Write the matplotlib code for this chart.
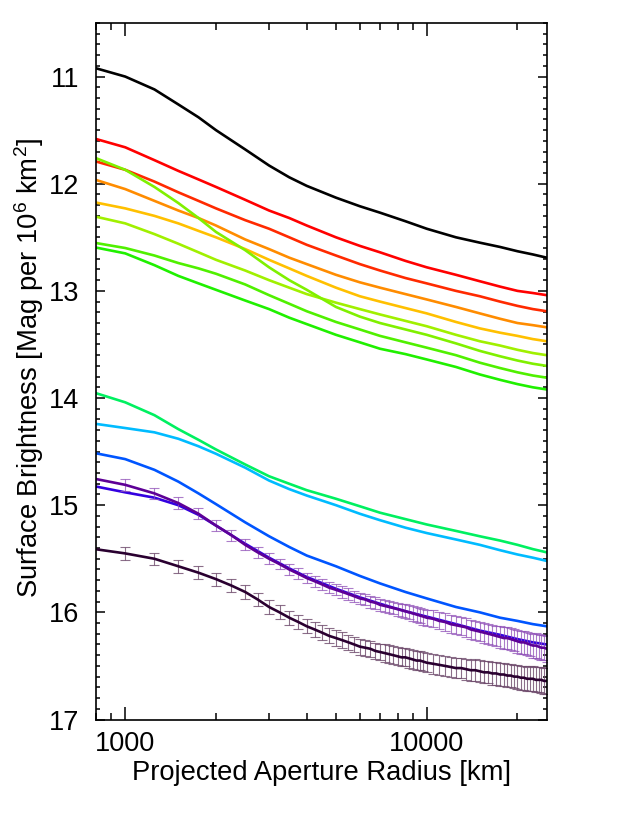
import numpy as np
import matplotlib
matplotlib.use("Agg")
import matplotlib.pyplot as plt
from matplotlib.ticker import FixedLocator, NullFormatter, MultipleLocator, LogLocator

plt.rcParams['font.family'] = ['Liberation Sans', 'DejaVu Sans']
plt.rcParams['mathtext.fontset'] = 'custom'
plt.rcParams['mathtext.rm'] = 'Liberation Sans'
plt.rcParams['mathtext.it'] = 'Liberation Sans'

# ---------------- data ----------------
radius = [750, 1000, 1250, 1500, 1750, 2000, 2500, 3000, 3500, 4000, 5000,
          6000, 7000, 8500, 10000, 12500, 15000, 17500, 20000, 22500, 25000]

black = [10.90, 11.00, 11.12, 11.26, 11.38, 11.50, 11.68, 11.83, 11.94, 12.02, 12.13,
         12.21, 12.27, 12.35, 12.42, 12.50, 12.55, 12.59, 12.63, 12.66, 12.69]
red1 = [11.56, 11.66, 11.78, 11.88, 11.96, 12.03, 12.15, 12.25, 12.32, 12.39, 12.50,
        12.58, 12.64, 12.72, 12.78, 12.85, 12.91, 12.96, 13.00, 13.02, 13.04]
red2 = [11.77, 11.87, 11.98, 12.08, 12.16, 12.23, 12.34, 12.42, 12.50, 12.57, 12.67,
        12.75, 12.81, 12.88, 12.93, 13.00, 13.05, 13.10, 13.14, 13.17, 13.19]
orange = [11.94, 12.05, 12.16, 12.25, 12.32, 12.39, 12.52, 12.61, 12.69, 12.75, 12.85,
          12.92, 12.97, 13.03, 13.08, 13.15, 13.21, 13.26, 13.30, 13.32, 13.34]
yellow = [12.16, 12.23, 12.30, 12.37, 12.44, 12.50, 12.61, 12.71, 12.79, 12.86, 12.97,
          13.05, 13.10, 13.16, 13.21, 13.29, 13.35, 13.39, 13.42, 13.45, 13.47]
cross = [11.73, 11.87, 12.03, 12.18, 12.32, 12.45, 12.62, 12.78, 12.90, 12.99, 13.15,
         13.24, 13.30, 13.36, 13.41, 13.49, 13.56, 13.61, 13.65, 13.68, 13.70]
ygreen = [12.29, 12.37, 12.47, 12.56, 12.64, 12.71, 12.81, 12.90, 12.97, 13.03, 13.11,
          13.17, 13.22, 13.28, 13.33, 13.41, 13.47, 13.51, 13.55, 13.58, 13.60]
green3 = [12.54, 12.60, 12.67, 12.74, 12.79, 12.84, 12.94, 13.04, 13.12, 13.19, 13.29,
          13.36, 13.42, 13.48, 13.53, 13.60, 13.67, 13.72, 13.76, 13.79, 13.81]
green4 = [12.58, 12.65, 12.76, 12.86, 12.93, 12.99, 13.09, 13.17, 13.25, 13.31, 13.41,
          13.48, 13.54, 13.59, 13.64, 13.71, 13.78, 13.83, 13.87, 13.90, 13.92]
spring = [13.93, 14.04, 14.16, 14.29, 14.39, 14.48, 14.62, 14.73, 14.80, 14.86, 14.94,
          15.01, 15.07, 15.13, 15.18, 15.24, 15.29, 15.33, 15.37, 15.41, 15.44]
cyan = [14.23, 14.28, 14.32, 14.38, 14.45, 14.52, 14.65, 14.77, 14.85, 14.91, 15.00,
        15.08, 15.14, 15.21, 15.26, 15.32, 15.37, 15.42, 15.46, 15.49, 15.52]
blue = [14.50, 14.57, 14.67, 14.78, 14.89, 14.99, 15.16, 15.29, 15.39, 15.47, 15.57,
        15.66, 15.73, 15.81, 15.87, 15.95, 16.00, 16.05, 16.08, 16.11, 16.13]
violet = [14.81, 14.88, 14.93, 15.00, 15.09, 15.19, 15.36, 15.49, 15.59, 15.67, 15.78,
          15.86, 15.92, 15.99, 16.04, 16.11, 16.17, 16.21, 16.25, 16.28, 16.30]

# dense radii of the two series with error bars
eb_radius = [750, 1000, 1250, 1500, 1750, 2000, 2250, 2500, 2750, 3000, 3250, 3500, 3750,
             4000, 4250, 4500, 4750, 5000, 5250, 5500, 5750, 6000, 6250, 6500, 6750,
             7000, 7250, 7500, 7750, 8000, 8250, 8500, 8750, 9000, 9250, 9500, 9750,
             10000, 10500, 11000, 11500, 12000, 12500, 13000, 13500, 14000, 14500,
             15000, 15500, 16000, 16500, 17000, 17500, 18000, 18500, 19000, 19500,
             20000, 20500, 21000, 21500, 22000, 22500, 23000, 23500, 24000, 24500, 25000]
purple = [14.74, 14.81, 14.89, 14.98, 15.08, 15.19, 15.28, 15.37, 15.44, 15.50, 15.55,
          15.60, 15.64, 15.68, 15.71, 15.74, 15.77, 15.79, 15.81, 15.83, 15.85, 15.87,
          15.88, 15.90, 15.91, 15.93, 15.94, 15.95, 15.96, 15.97, 15.98, 15.99, 16.00,
          16.01, 16.02, 16.03, 16.04, 16.05, 16.06, 16.08, 16.09, 16.11, 16.12, 16.13,
          16.14, 16.16, 16.17, 16.18, 16.19, 16.20, 16.21, 16.22, 16.23, 16.24, 16.24,
          16.25, 16.26, 16.27, 16.28, 16.28, 16.29, 16.30, 16.31, 16.31, 16.32, 16.33,
          16.33, 16.34]
purple_err = [0.055, 0.055, 0.054, 0.053, 0.052, 0.052, 0.051, 0.051, 0.050, 0.050, 0.050,
              0.050, 0.050, 0.050, 0.051, 0.051, 0.051, 0.052, 0.052, 0.053, 0.053, 0.054,
              0.054, 0.055, 0.056, 0.057, 0.058, 0.059, 0.060, 0.061, 0.062, 0.064, 0.066,
              0.068, 0.070, 0.072, 0.074, 0.076, 0.078, 0.080, 0.082, 0.083, 0.085, 0.086,
              0.088, 0.089, 0.091, 0.092, 0.093, 0.095, 0.096, 0.097, 0.099, 0.100, 0.101,
              0.103, 0.104, 0.105, 0.107, 0.108, 0.109, 0.111, 0.112, 0.113, 0.115, 0.116,
              0.118, 0.120]
dark = [15.40, 15.45, 15.50, 15.57, 15.63, 15.69, 15.75, 15.81, 15.88, 15.95, 16.00,
        16.05, 16.09, 16.13, 16.16, 16.19, 16.22, 16.24, 16.26, 16.28, 16.30, 16.32,
        16.33, 16.34, 16.36, 16.37, 16.38, 16.39, 16.40, 16.41, 16.42, 16.42, 16.43,
        16.44, 16.45, 16.45, 16.46, 16.47, 16.48, 16.49, 16.50, 16.51, 16.52, 16.52,
        16.53, 16.54, 16.54, 16.55, 16.56, 16.56, 16.57, 16.57, 16.58, 16.58, 16.59,
        16.59, 16.60, 16.60, 16.61, 16.61, 16.62, 16.62, 16.62, 16.63, 16.63, 16.63,
        16.64, 16.64]
dark_err = [0.058, 0.058, 0.058, 0.059, 0.059, 0.060, 0.060, 0.061, 0.062, 0.063, 0.064,
            0.065, 0.066, 0.067, 0.068, 0.069, 0.070, 0.071, 0.072, 0.073, 0.074, 0.075,
            0.076, 0.077, 0.078, 0.079, 0.080, 0.081, 0.082, 0.083, 0.084, 0.085, 0.086,
            0.087, 0.088, 0.089, 0.090, 0.091, 0.092, 0.093, 0.094, 0.095, 0.096, 0.097,
            0.098, 0.099, 0.100, 0.101, 0.102, 0.103, 0.104, 0.105, 0.106, 0.107, 0.108,
            0.109, 0.110, 0.111, 0.112, 0.113, 0.114, 0.115, 0.116, 0.117, 0.118, 0.119,
            0.120, 0.122]

x_ticks = [1000, 10000]
x_tick_labels = ["1000", "10000"]
y_ticks = [11, 12, 13, 14, 15, 16, 17]

# ---------------- plot ----------------
fig = plt.figure(figsize=(6.43, 8.17), dpi=100)
ax = fig.add_axes([96 / 643, 1 - 719.5 / 817, (546.7 - 96) / 643, (719.5 - 23) / 817])

lw = 1.9
series = [
    (black, "#000000"), (red1, "#FF0000"), (red2, "#FF2A00"), (orange, "#FF8C00"),
    (yellow, "#FFC000"), (ygreen, "#A0F000"), (cross, "#80F000"), (green3, "#50F000"),
    (green4, "#20F000"), (spring, "#00F060"), (cyan, "#00BBFF"), (blue, "#0055FF"),
    (violet, "#3300E0"),
]
for vals, col in series:
    ax.plot(radius, vals, color=col, lw=lw, solid_joinstyle='round')

ax.errorbar(eb_radius, purple, yerr=purple_err, fmt='none', ecolor="#9050B8",
            elinewidth=0.8, capsize=3.5, capthick=0.8, alpha=0.75)
ax.plot(eb_radius, purple, color="#5E0096", lw=lw)
ax.errorbar(eb_radius, dark, yerr=dark_err, fmt='none', ecolor="#6E4A6C",
            elinewidth=0.8, capsize=3.5, capthick=0.8, alpha=0.8)
ax.plot(eb_radius, dark, color="#2A0030", lw=lw)

ax.set_xscale('log')
ax.set_xlim(800, 25000)
ax.set_ylim(17.0, 10.5)

ax.xaxis.set_major_locator(FixedLocator(x_ticks))
ax.set_xticklabels(x_tick_labels)
ax.xaxis.set_minor_locator(LogLocator(base=10, subs=np.arange(2, 10)))
ax.xaxis.set_minor_formatter(NullFormatter())
ax.yaxis.set_major_locator(FixedLocator(y_ticks))
ax.yaxis.set_minor_locator(MultipleLocator(0.1))

ax.tick_params(which='both', direction='in', top=True, right=True, width=1.1,
               labelsize=19.5, colors='black')
ax.tick_params(axis='x', which='major', length=9.5, pad=8)
ax.tick_params(axis='x', which='minor', length=4.8)
ax.tick_params(axis='y', which='major', length=6.5, pad=12)
ax.tick_params(axis='y', which='minor', length=3.2)
for s in ax.spines.values():
    s.set_linewidth(1.2)

ax.set_xlabel("Projected Aperture Radius [km]", fontsize=19.7)
ax.set_ylabel("Surface Brightness [Mag per 10$^6$ km$^2$]", fontsize=19.7)
ax.xaxis.set_label_coords(0.5003, (719.5 - 773) / 696.5)
ax.xaxis.label.set_verticalalignment('center')
ax.yaxis.set_label_coords((29 - 96) / 450.7, 0.505)
ax.yaxis.label.set_verticalalignment('center')

fig.savefig("out.png", dpi=100)
